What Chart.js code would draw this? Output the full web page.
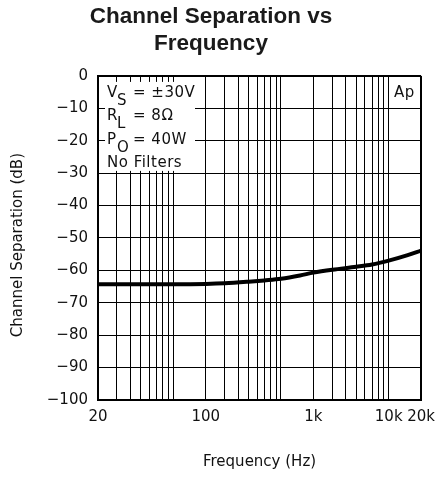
<!DOCTYPE html>
<html>
<head>
<meta charset="utf-8">
<script src="https://cdn.jsdelivr.net/npm/chart.js@4/dist/chart.umd.min.js"></script>
<style>
  html, body { margin: 0; padding: 0; background: #fff; }
</style>
</head>
<body>
<canvas id="chart" width="443" height="478"></canvas>
<script>
// curve
const freqHz = [20, 50, 100, 200, 300, 500, 700, 1000, 1500, 2000, 3000, 5000, 7000, 10000, 15000, 20000];
const separationDb = [-64.3, -64.3, -64.3, -64.2, -64.0, -63.5, -63.1, -62.6, -61.6, -60.7, -59.8, -58.9, -58.2, -57.0, -55.3, -53.9];

// log grid lines and where the reference prints its labels
const gridHz = [20, 30, 40, 50, 60, 70, 80, 90, 100, 200, 300, 400, 500, 600, 700, 800, 900,
  1000, 2000, 3000, 4000, 5000, 6000, 7000, 8000, 9000, 10000, 20000];
const xLabelAt = [20, 200, 2000, 10000, 20000];
const xLabelText = ['20', '100', '1k', '10k', '20k'];

const noteLines = [
  ['V', 'S', '= \u00b130V'],
  ['R', 'L', '= 8\u03a9'],
  ['P', 'O', '= 40W'],
  ['No Filters', '', '']
];
const cornerNote = 'Ap';

const ink = '#111';
const axisFont = { family: '"DejaVu Sans", sans-serif', size: 15 };

const noteBox = {
  id: 'noteBox',
  beforeDatasetsDraw(chart) {
    const { ctx, chartArea: a } = chart;
    ctx.save();
    ctx.fillStyle = '#fff';
    ctx.fillRect(a.left + 7, a.top + 6, 90, 89);
    ctx.fillStyle = ink;
    ctx.font = '15px "DejaVu Sans"';
    ctx.letterSpacing = '0.5px';
    ctx.textBaseline = 'alphabetic';
    noteLines.forEach((ln, i) => {
      const y = a.top + 21 + i * 23.5;
      ctx.fillText(ln[0], a.left + 9, y);
      if (ln[1]) ctx.fillText(ln[1], a.left + 19, y + 8);
      if (ln[2]) ctx.fillText(ln[2], a.left + 35, y);
    });
    ctx.fillText(cornerNote, a.right - 27, a.top + 21);
    ctx.restore();
  }
};

new Chart(document.getElementById('chart'), {
  type: 'line',
  data: {
    datasets: [{
      data: freqHz.map((f, i) => ({ x: f, y: separationDb[i] })),
      borderColor: '#000',
      borderWidth: 4,
      pointRadius: 0,
      cubicInterpolationMode: 'monotone',
      fill: false
    }]
  },
  options: {
    responsive: false,
    animation: false,
    layout: { padding: { top: 0, left: 0, right: 21, bottom: 0 } },
    plugins: {
      legend: { display: false },
      tooltip: { enabled: false },
      title: {
        display: true,
        text: ['Channel Separation vs', 'Frequency'],
        color: '#1a1a1a',
        font: { family: '"Liberation Sans", Arial, sans-serif', size: 22.5, weight: 'bold', lineHeight: 1.22 },
        padding: { top: 3, bottom: 18 }
      }
    },
    scales: {
      x: {
        type: 'logarithmic',
        min: 20,
        max: 20000,
        afterBuildTicks: s => { s.ticks = gridHz.map(v => ({ value: v })); },
        afterFit: s => { s.height = 78; },
        ticks: {
          autoSkip: false,
          maxRotation: 0,
          padding: 8,
          color: ink,
          font: axisFont,
          callback: v => {
            const i = xLabelAt.indexOf(v);
            return i < 0 ? '' : xLabelText[i];
          }
        },
        grid: {
          color: '#000',
          lineWidth: c => (c.tick && c.tick.value === 20000 ? 2 : 1),
          drawTicks: false
        },
        border: { color: '#000', width: 2 },
        title: {
          display: true,
          text: 'Frequency (Hz)',
          color: ink,
          font: axisFont,
          padding: { top: 0, bottom: 7 }
        }
      },
      y: {
        min: -100,
        max: 0,
        afterFit: s => { s.width = 98; },
        ticks: {
          stepSize: 10,
          padding: 10,
          color: ink,
          font: axisFont,
          callback: v => (v === 0 ? '0' : '\u2212' + Math.abs(v))
        },
        grid: {
          color: '#000',
          lineWidth: c => (c.tick && c.tick.value === 0 ? 2 : 1),
          drawTicks: false
        },
        border: { color: '#000', width: 2 },
        title: {
          display: true,
          text: 'Channel Separation (dB)   ',
          color: ink,
          font: axisFont,
          padding: { top: 9, bottom: 0 }
        }
      }
    }
  },
  plugins: [noteBox]
});
</script>
</body>
</html>
